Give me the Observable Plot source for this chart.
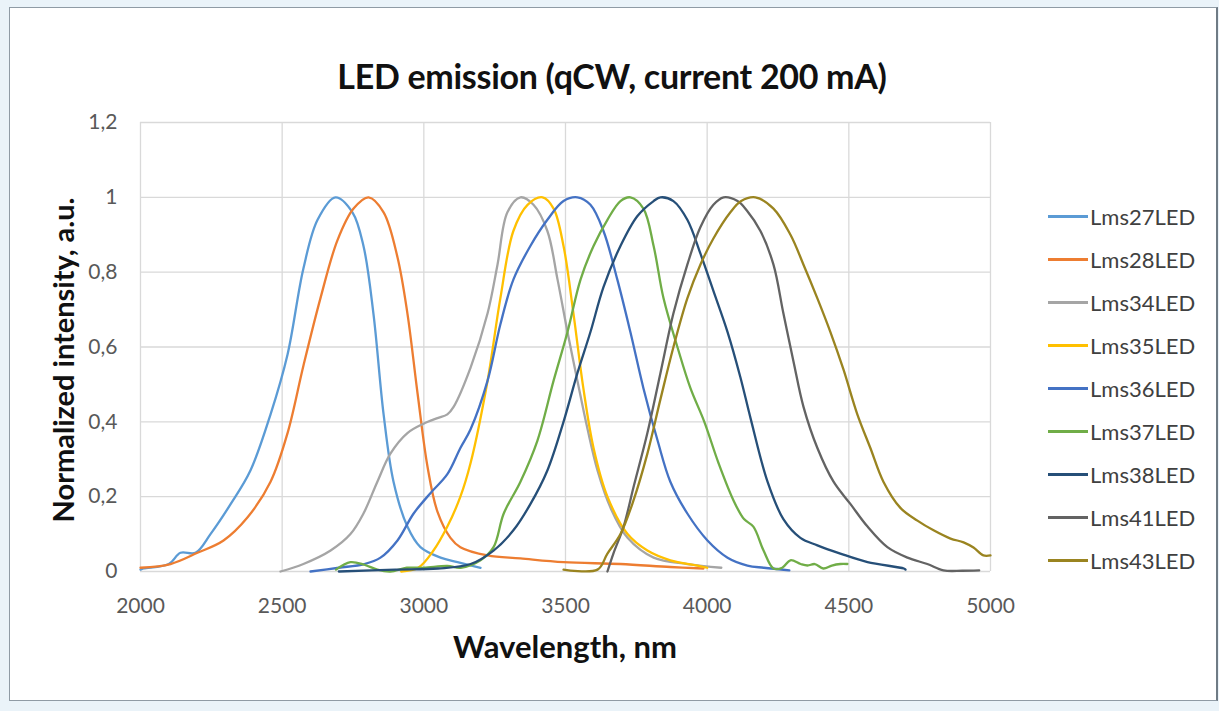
<!DOCTYPE html>
<html>
<head>
<meta charset="utf-8">
<script src="https://cdn.jsdelivr.net/npm/d3@7"></script>
<script src="https://cdn.jsdelivr.net/npm/@observablehq/plot@0.6"></script>
<style>
  html, body { margin: 0; padding: 0; background: #eaf3f9; }
  #wrap { position: relative; width: 1219px; height: 711px; overflow: hidden; font-family: Lato, "Open Sans", sans-serif; }
  #frame { position: absolute; left: 9px; top: 7px; width: 1206px; height: 692px; background: #fff; border: 1px solid #8f9ba5; border-right: 2px solid #6f7b85; }
  #title { position: absolute; left: 0; width: 1224px; top: 55px; text-align: center; font-weight: 700; font-size: 34px; color: #111; letter-spacing: -0.3px; }
  #xlabel { position: absolute; left: 140px; width: 850px; top: 627px; text-align: center; font-weight: 700; font-size: 31px; color: #111; }
  #ylabel { position: absolute; left: 62px; top: 360px; transform: translate(-50%, -50%) rotate(-90deg); white-space: nowrap; font-weight: 700; font-size: 29px; color: #111; }
  #plot { position: absolute; left: 0; top: 100px; }
  #legend { position: absolute; left: 1048px; top: 195px; }
  .li { display: flex; align-items: center; height: 43px; font-size: 22px; color: #404040; }
  .sw { width: 40px; height: 3px; margin-right: 2px; }
</style>
</head>
<body>
<div id="wrap">
  <div id="frame"></div>
  <div id="title">LED emission (qCW, current 200 mA)</div>
  <div id="plot"></div>
  <div id="xlabel">Wavelength, nm</div>
  <div id="ylabel">Normalized intensity, a.u.</div>
  <div id="legend"></div>
</div>
<script>
// Series names and colours
const seriesNames = ["Lms27LED","Lms28LED","Lms34LED","Lms35LED","Lms36LED","Lms37LED","Lms38LED","Lms41LED","Lms43LED"];
const seriesColors = ["#5b9bd5","#ed7d31","#a5a5a5","#ffc000","#4472c4","#70ad47","#264f78","#636363","#9a8420"];

// Axis ticks
const xTicks = [2000, 2500, 3000, 3500, 4000, 4500, 5000];
const yTicks = [0, 0.2, 0.4, 0.6, 0.8, 1, 1.2];

// [wavelength nm, normalized intensity]
const lms27 = [[2000,0.005],[2011,0.008],[2100,0.02],[2141,0.05],[2194,0.05],[2247,0.10],[2318,0.18],[2388,0.27],[2459,0.42],[2519,0.58],[2575,0.81],[2625,0.94],[2688,1.0],[2748,0.96],[2787,0.87],[2822,0.69],[2858,0.42],[2893,0.24],[2942,0.12],[2988,0.065],[3059,0.037],[3119,0.025],[3200,0.01]];
const lms28 = [[2000,0.01],[2106,0.02],[2201,0.05],[2293,0.083],[2378,0.145],[2459,0.24],[2519,0.37],[2575,0.55],[2635,0.73],[2695,0.885],[2752,0.97],[2805,1.0],[2858,0.96],[2907,0.84],[2942,0.69],[2978,0.475],[3013,0.28],[3048,0.16],[3094,0.09],[3129,0.065],[3225,0.043],[3341,0.035],[3493,0.025],[3694,0.02],[3870,0.012],[3987,0.008]];
const lms34 = [[2494,0],[2575,0.02],[2671,0.056],[2741,0.10],[2787,0.155],[2836,0.24],[2882,0.315],[2942,0.37],[2999,0.395],[3048,0.41],[3083,0.42],[3105,0.44],[3165,0.545],[3225,0.69],[3260,0.82],[3295,0.96],[3341,1.0],[3387,0.98],[3436,0.91],[3472,0.78],[3507,0.64],[3542,0.51],[3578,0.38],[3613,0.27],[3659,0.17],[3719,0.09],[3811,0.037],[3930,0.02],[4050,0.01]];
const lms35 = [[2920,0],[2980,0.01],[3034,0.056],[3083,0.12],[3129,0.2],[3165,0.29],[3225,0.51],[3270,0.73],[3316,0.91],[3366,0.98],[3419,1.0],[3458,0.97],[3493,0.87],[3528,0.69],[3563,0.49],[3599,0.33],[3648,0.20],[3719,0.10],[3789,0.056],[3870,0.03],[3966,0.016],[4000,0.01]];
const lms36 = [[2600,0],[2700,0.01],[2790,0.02],[2847,0.037],[2907,0.083],[2964,0.155],[3024,0.21],[3083,0.26],[3129,0.33],[3165,0.38],[3225,0.51],[3270,0.66],[3316,0.78],[3376,0.87],[3436,0.94],[3493,0.99],[3542,1.0],[3588,0.98],[3634,0.91],[3683,0.78],[3729,0.64],[3775,0.49],[3825,0.35],[3870,0.24],[3930,0.155],[4001,0.083],[4072,0.037],[4142,0.016],[4200,0.01],[4290,0.003]];
const lms37 = [[2690,0.005],[2741,0.025],[2790,0.018],[2836,0.005],[2882,0],[2940,0.01],[3000,0.01],[3083,0.015],[3130,0.01],[3200,0.03],[3246,0.065],[3282,0.155],[3341,0.24],[3401,0.35],[3458,0.51],[3507,0.64],[3553,0.78],[3599,0.87],[3648,0.94],[3694,0.99],[3729,1.0],[3775,0.97],[3811,0.87],[3846,0.73],[3895,0.60],[3941,0.49],[3990,0.40],[4040,0.29],[4093,0.19],[4130,0.14],[4163,0.12],[4199,0.056],[4234,0.008],[4265,0.01],[4294,0.03],[4330,0.02],[4354,0.016],[4380,0.02],[4410,0.008],[4440,0.016],[4470,0.02],[4495,0.02]];
const lms38 = [[2700,0],[2900,0.005],[3050,0.008],[3165,0.02],[3246,0.056],[3316,0.11],[3376,0.18],[3436,0.27],[3493,0.40],[3542,0.53],[3588,0.64],[3634,0.76],[3694,0.87],[3754,0.95],[3811,0.99],[3835,1.0],[3881,0.99],[3930,0.94],[3976,0.85],[4022,0.75],[4072,0.64],[4117,0.52],[4153,0.41],[4213,0.24],[4269,0.14],[4329,0.09],[4389,0.07],[4470,0.048],[4566,0.025],[4694,0.008],[4700,0.005]];
const lms41 = [[3648,0],[3669,0.048],[3705,0.12],[3740,0.225],[3789,0.37],[3835,0.53],[3881,0.69],[3930,0.82],[3976,0.92],[4022,0.98],[4058,1.0],[4107,0.99],[4140,0.965],[4188,0.91],[4234,0.82],[4269,0.69],[4305,0.56],[4340,0.44],[4389,0.33],[4446,0.24],[4506,0.18],[4566,0.12],[4636,0.065],[4707,0.037],[4777,0.02],[4834,0.003],[4900,0.002],[4960,0.003]];
const lms43 = [[3493,0.005],[3613,0.005],[3648,0.048],[3694,0.10],[3740,0.19],[3789,0.315],[3835,0.46],[3881,0.60],[3930,0.73],[3976,0.82],[4022,0.89],[4082,0.96],[4120,0.99],[4170,1.0],[4234,0.97],[4294,0.90],[4340,0.82],[4389,0.73],[4435,0.64],[4481,0.54],[4530,0.42],[4576,0.33],[4622,0.24],[4682,0.17],[4742,0.136],[4799,0.11],[4859,0.088],[4905,0.078],[4940,0.064],[4975,0.043],[5000,0.043]];

const seriesData = [lms27, lms28, lms34, lms35, lms36, lms37, lms38, lms41, lms43];
const rows = seriesData.flatMap((arr, i) => arr.map(([nm, v]) => ({series: seriesNames[i], nm, v})));

const fmt = d => String(d).replace(".", ",");

const chart = Plot.plot({
  width: 1010,
  height: 540,
  marginLeft: 140,
  marginRight: 20,
  marginTop: 22,
  marginBottom: 69,
  style: {fontFamily: "Lato, 'Open Sans', sans-serif", fontSize: "21px", color: "#595959", background: "transparent", overflow: "visible"},
  x: {domain: [2000, 5000], ticks: xTicks},
  y: {domain: [0, 1.2], ticks: yTicks},
  color: {domain: seriesNames, range: seriesColors},
  marks: [
    Plot.ruleX(xTicks, {stroke: "#d9d9d9", strokeWidth: 1.3}),
    Plot.ruleY(yTicks, {stroke: "#d9d9d9", strokeWidth: 1.3}),
    Plot.axisX({ticks: xTicks, tickSize: 0, tickPadding: 27, label: null, tickFormat: d => String(d), fontSize: 21}),
    Plot.axisY({ticks: yTicks, tickSize: 0, tickPadding: 23, label: null, tickFormat: fmt, fontSize: 21}),
    Plot.line(rows, {x: "nm", y: "v", z: "series", stroke: "series", strokeWidth: 2.3, curve: "catmull-rom"})
  ]
});
document.getElementById("plot").appendChild(chart);

const leg = document.getElementById("legend");
seriesNames.forEach((n, i) => {
  const d = document.createElement("div");
  d.className = "li";
  d.innerHTML = `<span class="sw" style="background:${seriesColors[i]}"></span><span>${n}</span>`;
  leg.appendChild(d);
});
</script>
</body>
</html>
